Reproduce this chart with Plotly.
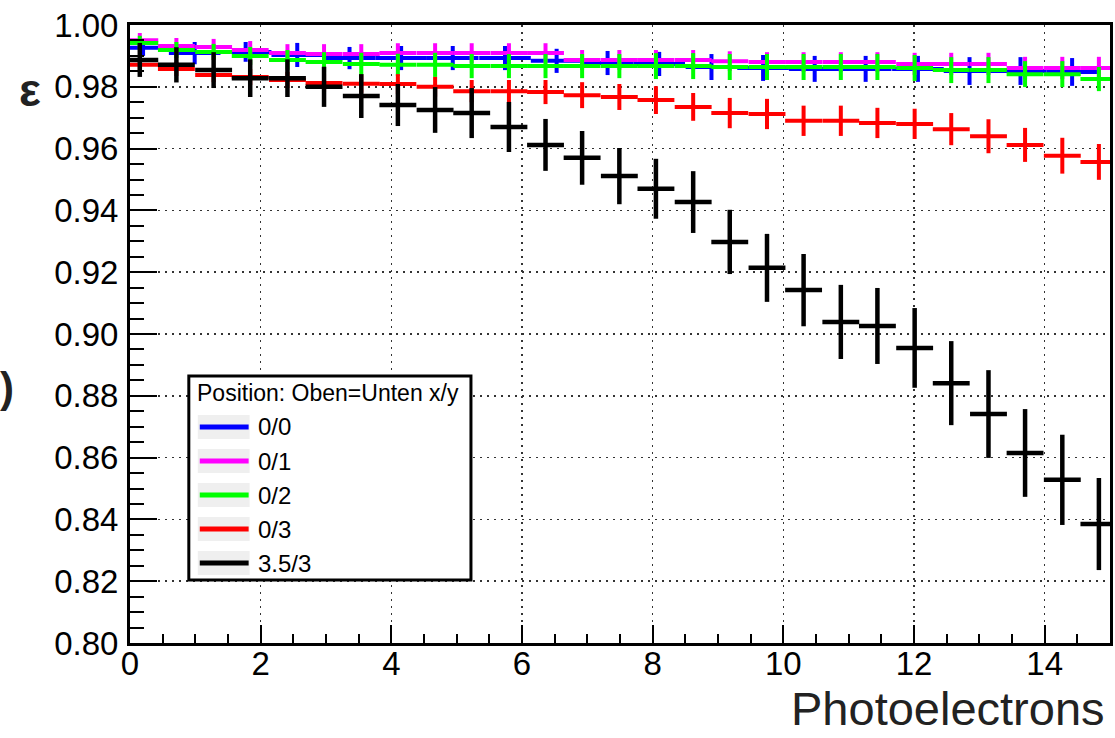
import numpy as np
import plotly.graph_objects as go

# ---------------- data ----------------
# bin centres (Photoelectrons) shared by 0/1, 0/2, 0/3 and 3.5/3
x_bins = [0.15, 0.71, 1.28, 1.84, 2.41, 2.97, 3.54, 4.10, 4.67, 5.23, 5.80, 6.36, 6.92, 7.49,
          8.05, 8.62, 9.18, 9.75, 10.31, 10.88, 11.44, 12.01, 12.57, 13.14, 13.70, 14.27, 14.83]
# bin centres of the 0/0 histogram (coarser binning)
x_bins_00 = [0.20, 0.99, 1.77, 2.56, 3.36, 4.15, 4.94, 5.74, 6.53, 7.31, 8.10, 8.90, 9.69,
             10.48, 11.26, 12.06, 12.85, 13.63, 14.42]

eff_00 = [0.9926, 0.9909, 0.9913, 0.9903, 0.9893, 0.9893, 0.9893, 0.9893, 0.9884, 0.9877,
          0.9874, 0.9864, 0.9861, 0.9858, 0.9858, 0.9858, 0.9851, 0.9851, 0.9848]
err_00 = [0.0026, 0.0036, 0.0032, 0.0039, 0.0036, 0.0039, 0.0039, 0.0039, 0.0039, 0.0039,
          0.0039, 0.0042, 0.0042, 0.0042, 0.0042, 0.0042, 0.0045, 0.0045, 0.0045]

eff_01 = [0.9951, 0.9932, 0.9929, 0.9919, 0.9909, 0.9906, 0.9906, 0.9909, 0.9909, 0.9909,
          0.9909, 0.9909, 0.9887, 0.9887, 0.9887, 0.9887, 0.9883, 0.9880, 0.9880, 0.9880,
          0.9880, 0.9874, 0.9874, 0.9874, 0.9861, 0.9861, 0.9861]
err_01 = [0.0023, 0.0026, 0.0026, 0.0029, 0.0029, 0.0032, 0.0032, 0.0032, 0.0032, 0.0032,
          0.0032, 0.0032, 0.0032, 0.0032, 0.0032, 0.0032, 0.0032, 0.0032, 0.0032, 0.0032,
          0.0032, 0.0036, 0.0036, 0.0036, 0.0036, 0.0036, 0.0036]

eff_02 = [0.9942, 0.9919, 0.9913, 0.9900, 0.9887, 0.9880, 0.9874, 0.9871, 0.9871, 0.9867,
          0.9867, 0.9867, 0.9867, 0.9867, 0.9867, 0.9867, 0.9864, 0.9864, 0.9864, 0.9864,
          0.9864, 0.9861, 0.9854, 0.9854, 0.9841, 0.9841, 0.9825]
err_02 = [0.0023, 0.0026, 0.0026, 0.0029, 0.0032, 0.0032, 0.0036, 0.0036, 0.0039, 0.0039,
          0.0039, 0.0039, 0.0039, 0.0039, 0.0042, 0.0042, 0.0042, 0.0042, 0.0042, 0.0042,
          0.0042, 0.0042, 0.0042, 0.0042, 0.0042, 0.0042, 0.0039]

eff_03 = [0.9871, 0.9858, 0.9838, 0.9832, 0.9822, 0.9812, 0.9810, 0.9809, 0.9800, 0.9786,
          0.9786, 0.9783, 0.9773, 0.9767, 0.9757, 0.9735, 0.9715, 0.9712, 0.9690, 0.9690,
          0.9683, 0.9680, 0.9663, 0.9640, 0.9612, 0.9577, 0.9557]
err_03 = [0.0019, 0.0023, 0.0023, 0.0026, 0.0026, 0.0029, 0.0029, 0.0032, 0.0032, 0.0036,
          0.0036, 0.0039, 0.0042, 0.0042, 0.0045, 0.0045, 0.0049, 0.0049, 0.0049, 0.0049,
          0.0049, 0.0049, 0.0052, 0.0055, 0.0055, 0.0058, 0.0058]

eff_353 = [0.9887, 0.9871, 0.9854, 0.9828, 0.9828, 0.9800, 0.9770, 0.9741, 0.9725, 0.9715,
           0.9670, 0.9612, 0.9570, 0.9511, 0.9470, 0.9427, 0.9298, 0.9214, 0.9142, 0.9039,
           0.9026, 0.8955, 0.8841, 0.8741, 0.8615, 0.8528, 0.8385]
err_353 = [0.0055, 0.0057, 0.0058, 0.0061, 0.0061, 0.0065, 0.0071, 0.0068, 0.0074, 0.0081,
           0.0081, 0.0084, 0.0087, 0.0091, 0.0097, 0.0100, 0.0104, 0.0110, 0.0117, 0.0120,
           0.0123, 0.0129, 0.0136, 0.0142, 0.0142, 0.0146, 0.0149]

series_names = ["0/0", "0/1", "0/2", "0/3", "3.5/3"]
series_x = [x_bins_00, x_bins, x_bins, x_bins, x_bins]
series_y = [eff_00, eff_01, eff_02, eff_03, eff_353]
series_err = [err_00, err_01, err_02, err_03, err_353]
series_colors = ["#0000ff", "#ff00ff", "#00ff00", "#ff0000", "#000000"]

legend_title = "Position: Oben=Unten x/y"
x_title = "Photoelectrons"
y_tick_values = [0.80, 0.82, 0.84, 0.86, 0.88, 0.90, 0.92, 0.94, 0.96, 0.98, 1.00]
x_tick_values = [0, 2, 4, 6, 8, 10, 12, 14]

# ---------------- figure ----------------
W, H = 1115, 738
L, R, T, B = 130, 2, 25, 95
PW, PH = W - L - R, H - T - B


def px(xp):
    return (xp - L) / PW


def py(yp):
    return (H - B - yp) / PH


FONT = "Liberation Sans, Arial, sans-serif"

fig = go.Figure()
for name, xs, ys, es, col in zip(series_names, series_x, series_y, series_err, series_colors):
    xs_arr = np.array(xs)
    half_w = float(np.mean(np.diff(xs_arr))) / 2.0
    thick = 4.5 if col == "#000000" else 4
    fig.add_trace(go.Scatter(
        x=xs, y=ys, name=name, mode="markers",
        marker=dict(size=2, color=col),
        error_x=dict(type="constant", value=half_w, symmetric=True, color=col,
                     thickness=thick, width=0),
        error_y=dict(type="data", array=es, symmetric=True, color=col,
                     thickness=thick, width=0),
        showlegend=False, hoverinfo="skip",
    ))

axis_common = dict(
    showline=True, linewidth=3, linecolor="black", mirror=True,
    ticks="inside", tickcolor="black", tickwidth=2,
    showgrid=True, gridcolor="#333333", gridwidth=1.5, griddash="2px,5px",
    zeroline=False, tickfont=dict(family=FONT, size=33, color="black"),
)

fig.update_xaxes(range=[0, 15], tickvals=x_tick_values, ticklen=18,
                 minor=dict(dtick=0.5, tick0=0, ticks="inside", ticklen=9, tickwidth=2,
                            tickcolor="black", showgrid=False),
                 **axis_common)
fig.update_yaxes(range=[0.80, 1.00], tickvals=y_tick_values, tickformat=".2f", ticklen=27,
                 ticklabelstandoff=2,
                 minor=dict(dtick=0.005, tick0=0.8, ticks="inside", ticklen=14, tickwidth=2,
                            tickcolor="black", showgrid=False),
                 **axis_common)
try:
    fig.update_xaxes(ticklabelstandoff=-11)
except Exception:
    pass

# ---------------- custom ROOT-style legend ----------------
shapes = []
annotations = []
box_l, box_r, box_t, box_b = 189, 472, 376, 580
shapes.append(dict(type="rect", xref="paper", yref="paper", x0=px(box_l), x1=px(box_r),
                   y0=py(box_b), y1=py(box_t), fillcolor="white",
                   line=dict(color="black", width=3), layer="above"))
annotations.append(dict(xref="paper", yref="paper", x=px(195), y=py(393), text=legend_title,
                        showarrow=False, xanchor="left", yanchor="middle",
                        font=dict(family=FONT, size=23, color="black")))
row_y0, row_step = 427, 34
for i, (name, col) in enumerate(zip(series_names, series_colors)):
    yy = row_y0 + i * row_step
    shapes.append(dict(type="rect", xref="paper", yref="paper", x0=px(198), x1=px(250),
                       y0=py(yy + 12), y1=py(yy - 12), fillcolor="#efefef",
                       line=dict(width=0), layer="above"))
    shapes.append(dict(type="line", xref="paper", yref="paper", x0=px(200), x1=px(249),
                       y0=py(yy), y1=py(yy), line=dict(color=col, width=5), layer="above"))
    annotations.append(dict(xref="paper", yref="paper", x=px(256), y=py(yy), text=name,
                            showarrow=False, xanchor="left", yanchor="middle",
                            font=dict(family=FONT, size=24, color="black")))

# axis title and cut-off label fragments
annotations.append(dict(xref="paper", yref="paper", x=px(1110), y=py(737), text=x_title,
                        showarrow=False, xanchor="right", yanchor="bottom",
                        font=dict(family=FONT, size=47, color="#222222")))
annotations.append(dict(xref="paper", yref="paper", x=px(30), y=py(90), text="<b>ε</b>",
                        showarrow=False, xanchor="center", yanchor="middle",
                        font=dict(family=FONT, size=46, color="#222222")))
annotations.append(dict(xref="paper", yref="paper", x=px(7), y=py(387), text="<b>)</b>",
                        showarrow=False, xanchor="center", yanchor="middle",
                        font=dict(family=FONT, size=42, color="#222222")))

fig.update_layout(
    width=W, height=H,
    margin=dict(l=L, r=R, t=T, b=B, pad=0),
    plot_bgcolor="white", paper_bgcolor="white",
    showlegend=False, hovermode=False,
    font=dict(family=FONT, size=33, color="black"),
    shapes=shapes, annotations=annotations,
)

fig.write_html("out.html", config={"displayModeBar": False, "staticPlot": True},
               post_script="document.body.style.margin='0px';document.body.style.overflow='hidden';")
